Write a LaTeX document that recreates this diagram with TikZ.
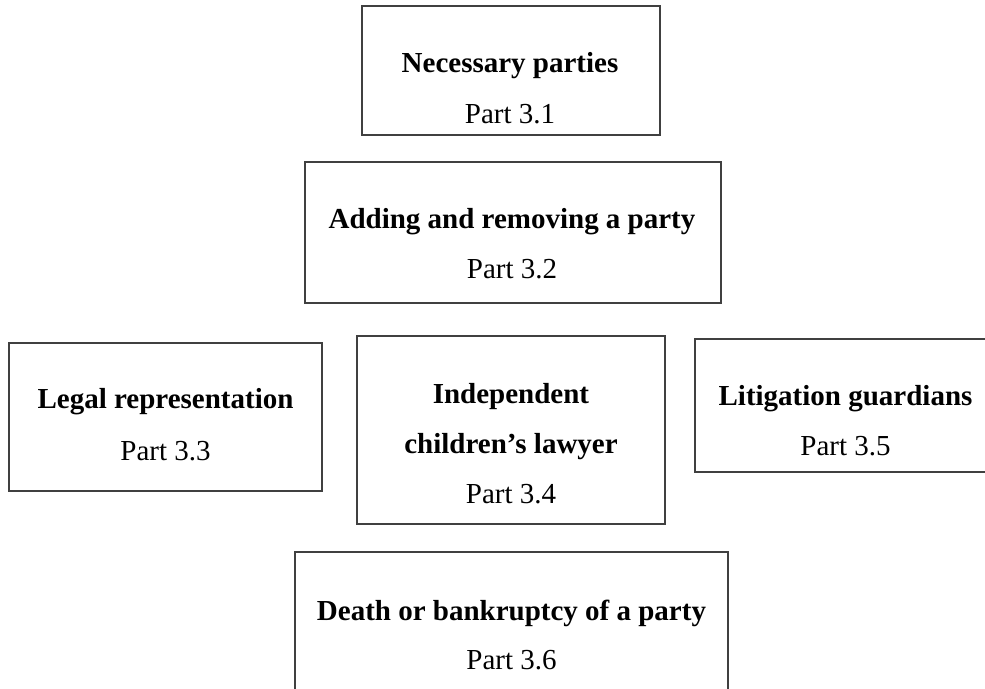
\documentclass[tikz,border=0pt]{standalone}
\usepackage{fontspec}
\setmainfont{Liberation Serif}
\begin{document}
\begin{tikzpicture}[x=1pt,y=-1pt,
    box/.style={draw=black!75,line width=1.2pt,inner sep=0pt},
    head/.style={font=\fontsize{29}{35}\selectfont\bfseries,anchor=base,inner sep=0pt},
    part/.style={font=\fontsize{29}{35}\selectfont,anchor=base,inner sep=0pt}]
    \useasboundingbox[fill=white] (0,0) rectangle (985,688);
    \foreach \n/\x/\y/\w/\h in {1/511/70.5/298/129, 2/513/232.5/416/141, 3/165.5/417/313/148,
        4/511/430/308/188, 5/845.5/405.5/301/133, 6/511.5/627/433/150}{
        \node[box,minimum width=\w pt,minimum height=\h pt] (b\n) at (\x,\y) {};
    }
    \foreach \n/\x/\y/\t in {1/510/72/Necessary parties, 2/512/228/Adding and removing a party,
        3/165.5/408/Legal representation, 4/511/403/Independent, 5/845.5/405/Litigation guardians,
        6/511.5/620/Death or bankruptcy of a party}{
        \node[head] (h\n) at (\x,\y) {\t};
    }
    \node[head] (h4b) at (511,453) {children’s lawyer};
    \foreach \n/\x/\y in {1/510/123, 2/512/278, 3/165.5/460, 4/511/503, 5/845.5/455, 6/511.5/669}{
        \node[part] (p\n) at (\x,\y) {Part 3.\n};
    }
\end{tikzpicture}
\end{document}
